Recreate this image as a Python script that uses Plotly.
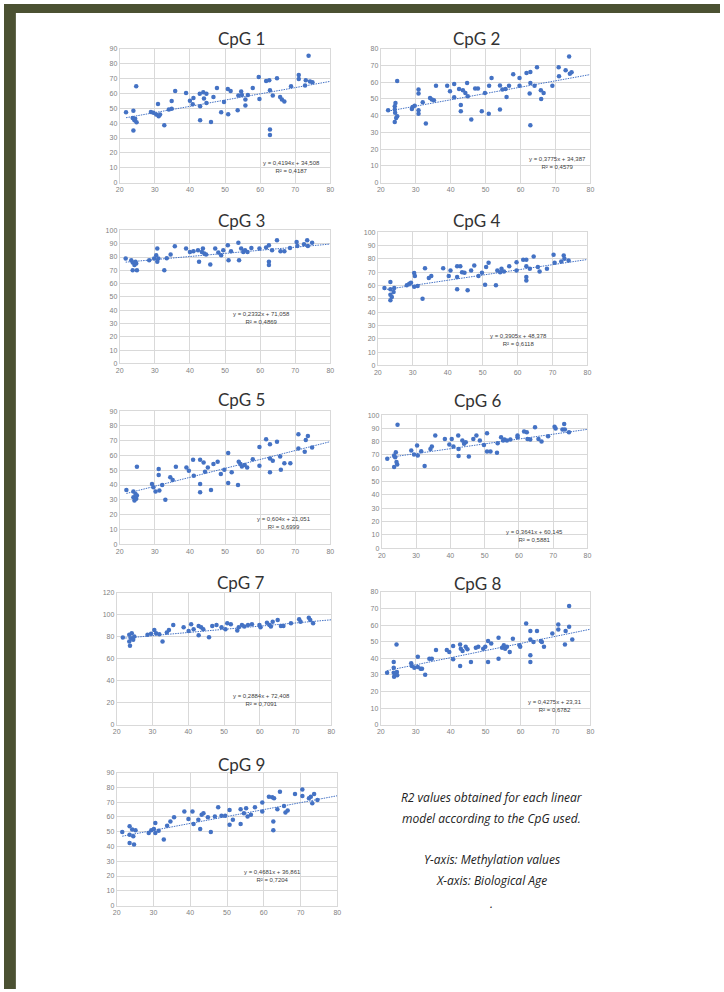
import plotly.graph_objects as go

W, H = 724, 992

# ---------------- data ----------------
cpg1_x = [21.8, 23.9, 23.7, 24.2, 24.8, 24.7, 23.9, 24.4, 28.9, 29.6, 30.4, 30.9, 31.1, 31.5, 32.7, 34.0, 34.8, 34.8, 35.8, 38.9,
          40.0, 40.8, 41.0, 42.8, 42.9, 42.9, 43.8, 44.0, 44.7, 44.7, 46.0, 46.7, 47.7, 48.9, 49.7, 50.8, 51.6, 50.9, 53.6, 53.8,
          54.6, 54.8, 55.8, 55.8, 56.5, 57.9, 59.6, 59.8, 61.7, 62.6, 62.8, 62.8, 62.8, 63.6, 64.8, 65.7, 66.2, 66.9, 68.8, 71.0,
          71.0, 72.8, 73.0, 73.8, 74.2, 74.9]
cpg1_y = [47.3, 48.4, 43.5, 42.0, 40.6, 64.7, 35.0, 42.9, 47.5, 46.9, 45.8, 52.9, 44.6, 45.8, 38.6, 49.1, 49.6, 54.9, 61.6, 60.3,
          55.1, 52.7, 56.9, 59.8, 51.3, 42.0, 60.7, 56.5, 53.6, 59.8, 40.8, 57.6, 63.6, 47.3, 54.2, 62.9, 61.6, 46.0, 48.7, 58.5,
          61.2, 58.9, 55.8, 51.8, 58.9, 63.6, 71.0, 56.2, 68.3, 68.8, 62.1, 35.7, 32.1, 58.5, 70.1, 57.6, 55.8, 54.5, 64.7, 72.3,
          69.6, 65.2, 68.8, 85.3, 67.9, 67.4]

cpg2_x = [22.1, 24.0, 24.0, 24.1, 24.0, 24.7, 24.7, 24.4, 24.2, 28.9, 29.1, 29.7, 30.8, 30.8, 30.8, 30.8, 32.0, 32.9, 34.1, 34.6,
          35.2, 35.8, 39.0, 39.8, 41.0, 41.0, 42.4, 42.9, 42.9, 43.5, 44.2, 44.7, 44.9, 45.9, 47.0, 47.8, 48.9, 49.8, 50.9, 51.0,
          51.7, 54.1, 54.1, 54.8, 55.7, 56.0, 56.7, 57.9, 59.7, 59.7, 61.7, 62.8, 62.6, 62.8, 62.8, 64.0, 64.7, 65.8, 65.9, 66.6,
          69.1, 70.9, 71.0, 72.9, 73.9, 74.1, 74.6]
cpg2_y = [43.3, 45.6, 43.7, 41.7, 36.3, 39.7, 60.7, 38.7, 47.6, 44.0, 45.2, 46.0, 55.6, 53.2, 43.3, 41.1, 48.0, 35.3, 50.6, 49.6,
          49.2, 57.9, 57.9, 54.6, 58.9, 51.0, 56.0, 46.4, 42.7, 55.2, 53.6, 59.5, 51.6, 37.7, 56.2, 56.2, 42.7, 53.6, 41.1, 57.9,
          62.5, 43.7, 58.1, 55.6, 56.0, 51.2, 57.9, 64.7, 62.5, 57.9, 65.5, 66.1, 53.2, 34.3, 59.5, 57.9, 68.9, 55.2, 50.0, 53.6,
          57.9, 68.9, 63.5, 67.1, 75.4, 65.1, 65.9]

cpg3_x = [21.7, 23.3, 23.7, 23.7, 24.2, 24.7, 24.9, 24.5, 28.4, 29.8, 30.4, 30.7, 30.7, 31.0, 32.7, 33.4, 34.5, 35.7, 38.9, 40.0,
          41.0, 42.3, 42.6, 43.4, 43.7, 44.1, 44.6, 45.8, 47.2, 48.1, 48.9, 49.5, 50.8, 51.0, 51.7, 53.8, 54.0, 54.6, 55.2, 55.7,
          56.4, 57.5, 59.8, 61.7, 62.5, 62.5, 62.5, 63.4, 64.8, 65.8, 66.9, 68.5, 70.4, 70.6, 72.5, 73.4, 73.6, 74.8]
cpg3_y = [78.9, 77.6, 75.9, 70.1, 73.9, 75.1, 70.1, 76.4, 77.6, 78.9, 81.3, 86.3, 76.4, 78.9, 70.1, 79.1, 81.8, 88.1, 86.3, 83.8,
          84.3, 85.1, 76.4, 83.8, 86.3, 82.6, 81.8, 74.4, 86.3, 83.3, 81.3, 85.1, 88.8, 77.6, 84.3, 90.8, 77.6, 86.3, 83.8, 85.1,
          83.8, 86.8, 86.3, 87.1, 88.8, 76.4, 73.9, 85.1, 92.5, 84.3, 84.3, 86.8, 91.3, 88.3, 89.6, 92.5, 88.3, 90.8]

cpg4_x = [21.9, 23.6, 23.6, 23.6, 23.6, 24.0, 24.5, 24.7, 28.3, 29.0, 29.5, 30.4, 30.6, 30.4, 31.4, 32.8, 33.5, 34.6, 35.3, 38.7,
          40.3, 40.8, 42.7, 42.7, 42.7, 43.6, 44.1, 44.8, 45.7, 46.7, 47.6, 48.8, 49.8, 50.7, 51.0, 51.7, 53.8, 54.2, 55.0, 55.4,
          56.1, 57.6, 59.7, 59.7, 61.6, 62.5, 62.5, 62.5, 62.5, 63.5, 64.6, 65.8, 66.3, 68.4, 70.3, 70.6, 72.5, 73.2, 73.4, 74.6]
cpg4_y = [58.2, 62.7, 57.2, 53.2, 49.0, 51.5, 55.2, 58.2, 60.2, 61.4, 62.2, 69.4, 67.2, 59.2, 59.7, 50.2, 73.1, 65.7, 67.2, 73.1,
          67.2, 71.4, 74.6, 66.4, 57.2, 74.6, 70.1, 69.7, 56.5, 71.4, 75.1, 67.2, 69.7, 60.7, 73.9, 77.1, 60.2, 71.4, 70.1, 72.6,
          70.6, 74.6, 77.6, 71.4, 79.4, 79.4, 74.6, 66.4, 63.9, 72.6, 81.8, 73.9, 70.6, 72.6, 83.1, 77.1, 78.1, 82.6, 80.1, 78.9]

cpg5_x = [21.9, 23.9, 23.9, 24.2, 24.5, 24.7, 24.9, 24.9, 29.2, 29.6, 30.2, 31.1, 31.1, 31.3, 32.1, 33.0, 34.4, 35.1, 36.0, 39.0,
          39.7, 40.9, 41.1, 42.9, 42.9, 42.9, 43.9, 44.3, 45.1, 46.0, 46.7, 47.9, 48.8, 49.8, 50.9, 50.9, 51.9, 53.7, 53.9, 54.4,
          54.8, 55.6, 56.3, 57.9, 59.8, 59.8, 61.7, 62.8, 62.8, 62.8, 63.6, 64.8, 65.7, 65.9, 66.9, 68.6, 70.9, 70.9, 72.7, 73.0,
          73.6, 74.8]
cpg5_y = [36.7, 35.6, 31.8, 29.5, 34.0, 30.7, 52.4, 32.9, 40.7, 38.5, 35.6, 50.8, 46.8, 36.3, 40.1, 30.0, 45.2, 43.4, 52.4, 51.9,
          49.7, 57.1, 46.3, 57.1, 40.7, 35.1, 55.3, 49.0, 51.9, 36.7, 54.2, 55.7, 47.5, 50.4, 61.6, 41.4, 48.6, 40.1, 55.7, 54.2,
          52.6, 53.5, 51.9, 57.5, 65.8, 53.1, 70.9, 67.6, 48.6, 58.0, 56.4, 69.2, 59.3, 50.4, 54.8, 54.8, 74.3, 64.7, 62.5, 70.5,
          73.2, 65.4]

cpg6_x = [21.6, 23.6, 23.6, 23.9, 24.1, 24.3, 24.5, 24.6, 28.6, 29.4, 30.3, 30.5, 31.5, 32.5, 34.2, 34.6, 35.6, 38.4, 39.7, 40.4,
          40.9, 42.3, 42.4, 42.4, 43.5, 44.0, 44.5, 45.4, 46.7, 47.6, 48.6, 49.8, 50.7, 50.7, 51.7, 53.6, 53.8, 54.8, 55.4, 55.8,
          56.5, 57.5, 59.6, 59.6, 61.5, 62.3, 62.5, 63.3, 64.7, 65.7, 66.6, 68.5, 70.4, 70.7, 72.7, 73.2, 73.4, 74.6]
cpg6_y = [67.2, 69.7, 60.9, 68.4, 72.1, 64.7, 62.9, 92.8, 73.4, 70.4, 77.1, 69.7, 72.9, 61.7, 74.6, 76.4, 84.6, 82.1, 77.9, 82.1,
          76.4, 84.6, 74.6, 69.2, 80.9, 78.4, 79.6, 68.9, 82.1, 84.6, 80.9, 77.6, 86.3, 72.6, 72.6, 71.6, 78.9, 83.3, 80.9, 81.6,
          80.9, 81.6, 84.6, 83.3, 87.6, 87.1, 82.1, 81.6, 90.8, 82.1, 80.1, 84.1, 91.3, 90.0, 89.1, 93.3, 89.1, 87.1]

cpg7_x = [21.7, 23.5, 23.5, 23.7, 24.0, 24.2, 24.6, 24.9, 28.6, 29.6, 30.5, 31.0, 31.9, 32.8, 34.0, 34.6, 35.8, 38.7, 40.1, 40.8,
          41.5, 42.9, 42.9, 43.6, 44.2, 45.8, 46.7, 47.9, 49.3, 50.4, 50.9, 51.9, 53.7, 54.1, 55.0, 55.7, 56.7, 57.8, 59.9, 60.2,
          62.0, 62.7, 63.1, 63.6, 65.0, 65.9, 66.6, 68.7, 71.0, 71.4, 73.7, 74.1, 74.9]
cpg7_y = [79.4, 81.8, 75.8, 71.9, 78.8, 83.3, 77.3, 80.3, 81.8, 82.7, 86.3, 83.3, 82.4, 75.8, 83.9, 86.3, 90.8, 88.7, 85.4, 91.4,
          86.9, 81.5, 89.9, 88.7, 86.9, 79.7, 89.9, 90.8, 88.7, 86.9, 92.3, 91.4, 85.7, 88.7, 90.8, 89.3, 90.8, 91.4, 90.8, 88.7,
          92.9, 90.8, 89.3, 93.8, 95.3, 89.9, 89.9, 92.3, 95.9, 93.8, 97.4, 95.3, 92.3]

cpg8_x = [21.8, 23.7, 23.7, 23.7, 23.8, 24.2, 24.6, 24.5, 24.7, 28.7, 28.9, 29.6, 30.6, 30.6, 31.4, 31.8, 32.7, 33.9, 34.6, 35.8,
          38.9, 39.6, 40.7, 40.7, 42.7, 42.7, 42.9, 43.4, 44.3, 44.8, 45.8, 47.2, 47.9, 49.3, 49.9, 50.7, 50.7, 51.6, 53.7, 53.7,
          54.7, 55.2, 55.6, 56.1, 56.9, 57.8, 59.7, 59.9, 61.6, 62.8, 62.8, 62.8, 62.8, 63.7, 64.7, 65.8, 66.1, 66.7, 69.1, 70.8,
          70.8, 72.7, 72.9, 73.9, 73.9, 74.8]
cpg8_y = [31.4, 37.8, 34.4, 31.4, 29.0, 30.4, 31.8, 48.4, 29.8, 37.0, 35.4, 34.4, 41.0, 34.8, 33.8, 33.8, 30.2, 39.8, 39.8, 45.0,
          45.0, 43.8, 39.4, 47.4, 48.4, 35.4, 45.8, 44.4, 47.0, 45.4, 37.8, 46.4, 47.0, 45.8, 47.0, 50.4, 37.8, 49.0, 52.4, 39.8,
          46.4, 47.8, 45.8, 47.0, 43.8, 51.8, 47.8, 47.0, 61.0, 56.4, 51.4, 41.8, 37.8, 49.8, 56.4, 50.4, 49.8, 47.0, 55.0, 60.4,
          57.4, 48.4, 56.4, 59.0, 71.4, 51.4]

cpg9_x = [21.5, 23.5, 23.5, 23.5, 24.2, 24.5, 24.7, 25.1, 28.7, 29.4, 30.1, 30.5, 30.5, 31.4, 32.8, 33.7, 34.6, 35.6, 38.4, 39.5,
          40.6, 40.9, 42.2, 42.7, 43.1, 43.6, 44.8, 45.6, 46.7, 47.6, 48.5, 49.5, 50.7, 50.7, 51.6, 53.7, 53.7, 54.6, 55.2, 55.6,
          56.5, 57.6, 59.6, 59.6, 61.4, 62.3, 62.6, 62.6, 62.8, 63.7, 64.4, 65.5, 65.9, 66.5, 68.5, 70.5, 70.5, 72.3, 72.8, 73.2,
          73.7, 74.6]
cpg9_y = [49.8, 53.6, 48.0, 42.4, 51.4, 46.9, 41.3, 50.9, 49.1, 50.9, 51.8, 55.8, 49.1, 50.7, 44.7, 54.0, 56.9, 59.8, 63.6, 58.5,
          63.6, 55.2, 58.1, 51.8, 61.4, 62.5, 59.8, 49.8, 60.3, 66.5, 60.7, 60.7, 64.7, 54.7, 58.1, 55.2, 65.2, 62.5, 65.8, 60.3,
          61.4, 66.5, 69.7, 63.6, 73.7, 73.3, 56.9, 50.9, 72.6, 65.2, 77.0, 67.4, 63.0, 64.3, 75.5, 78.6, 74.1, 72.6, 73.7, 69.2,
          75.5, 71.5]

titles = ["CpG 1", "CpG 2", "CpG 3", "CpG 4", "CpG 5", "CpG 6", "CpG 7", "CpG 8", "CpG 9"]
xs = [cpg1_x, cpg2_x, cpg3_x, cpg4_x, cpg5_x, cpg6_x, cpg7_x, cpg8_x, cpg9_x]
ys = [cpg1_y, cpg2_y, cpg3_y, cpg4_y, cpg5_y, cpg6_y, cpg7_y, cpg8_y, cpg9_y]
slopes = [0.4194, 0.3775, 0.2332, 0.3905, 0.604, 0.3641, 0.2884, 0.4275, 0.4681]
intercepts = [34.508, 34.387, 71.058, 48.378, 21.051, 60.145, 72.408, 23.31, 36.861]
eq_texts = ["y = 0,4194x + 34,508", "y = 0,3775x + 34,387", "y = 0,2332x + 71,058",
            "y = 0,3905x + 48,378", "y = 0,604x + 21,051", "y = 0,3641x + 60,145",
            "y = 0,2884x + 72,408", "y = 0,4275x + 23,31", "y = 0,4681x + 36,861"]
r2_texts = ["R² = 0,4187", "R² = 0,4579", "R² = 0,4869", "R² = 0,6118", "R² = 0,6999",
            "R² = 0,5881", "R² = 0,7091", "R² = 0,6782", "R² = 0,7204"]
y_max = [90, 80, 100, 100, 90, 100, 120, 80, 90]
y_step = [10, 10, 10, 10, 10, 10, 20, 10, 10]
x_ticks = [20, 30, 40, 50, 60, 70, 80]
eq_pos = [(68.8, 10.4), (70.5, 11.9), (60.5, 34.4), (60.4, 19.1), (66.9, 14.4),
          (64.6, 9.0), (60.6, 22.4), (69.8, 11.2), (62.4, 19.9)]

note_lines = ["R2 values obtained for each linear", "model according to the CpG used.",
              "Y-axis: Methylation values", "X-axis: Biological Age", "."]

# ---------------- layout geometry (pixels) ----------------
plot_boxes = [(117, 330, 45, 180), (381, 593, 45, 180),
              (117, 330, 228, 362), (378, 590, 230, 364),
              (117, 330, 410, 544), (382, 590, 414, 548),
              (114, 331, 593, 726), (381, 593, 592, 726),
              (114, 337, 774, 908)]
title_pos = [(240, 35), (478, 35), (240, 218), (478, 218), (240, 398),
             (479, 399), (240, 583), (479, 584), (240, 766)]

BLUE = "#4472C4"
GRID = "#d9d9d9"
TICK = "#7f7f7f"

fig = go.Figure()
layout = dict(width=W, height=H, autosize=False, margin=dict(l=0, r=0, t=0, b=0),
              paper_bgcolor="white", plot_bgcolor="white", showlegend=False)
annotations = []

for i in range(9):
    n = i + 1
    xa = "x" if n == 1 else f"x{n}"
    ya = "y" if n == 1 else f"y{n}"
    x0, x1, y0, y1 = plot_boxes[i]
    fig.add_trace(go.Scatter(x=xs[i], y=ys[i], mode="markers", xaxis=xa, yaxis=ya,
                             marker=dict(color=BLUE, size=4.5, symbol="circle"),
                             hoverinfo="skip"))
    tx = [min(xs[i]), 80]
    ty = [slopes[i] * v + intercepts[i] for v in tx]
    fig.add_trace(go.Scatter(x=tx, y=ty, mode="lines", xaxis=xa, yaxis=ya,
                             line=dict(color=BLUE, width=1, dash="1.5px,1px"), hoverinfo="skip"))
    yt = list(range(0, y_max[i] + 1, y_step[i]))
    layout["xaxis" if n == 1 else f"xaxis{n}"] = dict(
        domain=[x0 / W, x1 / W], anchor=ya, range=[20, 80], tickvals=x_ticks,
        showgrid=True, gridcolor=GRID, gridwidth=1, zeroline=False,
        showline=True, linecolor=GRID, mirror=True, ticks="",
        tickfont=dict(family="Liberation Sans", size=7, color=TICK), fixedrange=True)
    layout["yaxis" if n == 1 else f"yaxis{n}"] = dict(
        domain=[1 - y1 / H, 1 - y0 / H], anchor=xa, range=[0, y_max[i]], tickvals=yt,
        showgrid=True, gridcolor=GRID, gridwidth=1, zeroline=False,
        showline=True, linecolor=GRID, mirror=True, ticks="",
        tickfont=dict(family="Liberation Sans", size=7, color=TICK), fixedrange=True)
    tpx, tpy = title_pos[i]
    annotations.append(dict(text=titles[i], x=tpx / W, y=1 - tpy / H, xref="paper", yref="paper",
                            showarrow=False, xanchor="center", yanchor="middle",
                            font=dict(family="Lato", size=17, color="#333333")))
    ex, ey = eq_pos[i]
    annotations.append(dict(text=eq_texts[i] + "<br>" + r2_texts[i], x=ex, y=ey, xref=xa, yref=ya,
                            showarrow=False, xanchor="center", yanchor="middle", align="center",
                            font=dict(family="Liberation Sans", size=6, color="#404040")))

note_y = [799, 820, 862, 883, 906]
for t, yy in zip(note_lines, note_y):
    annotations.append(dict(text=f"<i>{t}</i>", x=493 / W, y=1 - yy / H, xref="paper", yref="paper",
                            showarrow=False, xanchor="center", yanchor="middle",
                            font=dict(family="Open Sans", size=12, color="#222222")))

layout["annotations"] = annotations
OLIVE = "#4b5132"
layout["shapes"] = [
    dict(type="rect", xref="paper", yref="paper", x0=0, x1=1, y0=1 - 9 / H, y1=1,
         fillcolor=OLIVE, line=dict(width=0), layer="above"),
    dict(type="rect", xref="paper", yref="paper", x0=0, x1=12 / W, y0=0, y1=1,
         fillcolor=OLIVE, line=dict(width=0), layer="above"),
]
fig.update_layout(**layout)
fig.write_html("out.html", config={"displayModeBar": False},
               post_script="document.body.style.margin='0';document.body.style.padding='0';"
                           "document.body.style.overflow='hidden';")
